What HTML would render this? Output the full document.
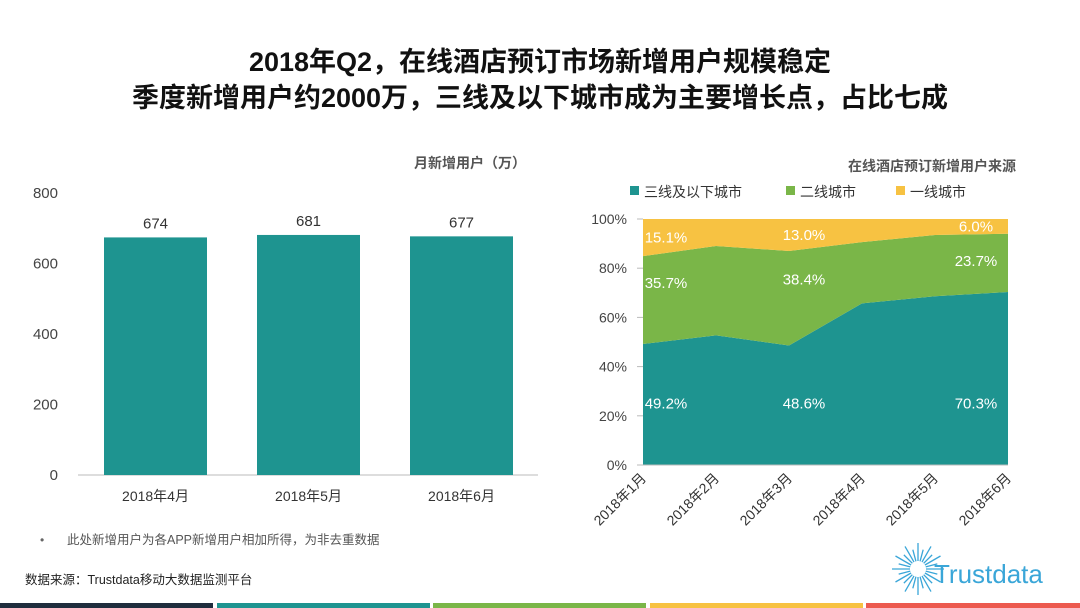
<!DOCTYPE html>
<html><head><meta charset="utf-8">
<style>
body{margin:0;width:1080px;height:608px;background:#fff;font-family:"Liberation Sans","Noto Sans CJK SC",sans-serif;overflow:hidden;position:relative}
.t{position:absolute;left:0;width:1080px;text-align:center;font-weight:bold;font-size:27px;color:#111}
svg text{font-family:"Liberation Sans","Noto Sans CJK SC",sans-serif}
</style></head><body>
<div class="t" style="top:40px">2018年Q2，在线酒店预订市场新增用户规模稳定</div>
<div class="t" style="top:76px">季度新增用户约2000万，三线及以下城市成为主要增长点，占比七成</div>
<svg id="c" width="1080" height="608" style="position:absolute;left:0;top:0">
<text x="470" y="168" text-anchor="middle" font-size="14" font-weight="bold" fill="#555">月新增用户（万）</text>
<text x="932" y="171" text-anchor="middle" font-size="14" font-weight="bold" fill="#555">在线酒店预订新增用户来源</text>
<text x="40" y="544" font-size="12" fill="#666">•</text>
<text x="67" y="544" font-size="12.5" fill="#555">此处新增用户为各APP新增用户相加所得，为非去重数据</text>
<text x="25" y="584" font-size="12.5" fill="#222">数据来源：Trustdata移动大数据监测平台</text>
<g>
<g stroke="#3aa6d8" stroke-width="1.3" id="rays"></g>
<text x="934" y="583" font-size="26" fill="#3aa6d8">Trustdata</text>
</g>
<g>
<rect x="0" y="603" width="213" height="5" fill="#1f2d3d"/>
<rect x="217" y="603" width="213" height="5" fill="#1e9490"/>
<rect x="433" y="603" width="213" height="5" fill="#7ab648"/>
<rect x="650" y="603" width="213" height="5" fill="#f7c242"/>
<rect x="866" y="603" width="214" height="5" fill="#ec5a4f"/>
</g>
<g id="left"></g><g id="right"></g>
</svg>
<script>
const barCats=["2018年4月","2018年5月","2018年6月"];
const barVals=[674,681,677];
const barTicks=[0,200,400,600,800];
const months=["2018年1月","2018年2月","2018年3月","2018年4月","2018年5月","2018年6月"];
const tier3=[49.2,52.7,48.6,65.7,68.6,70.3];
const tier2=[35.7,36.3,38.4,24.9,24.9,23.7];
const tier1=[15.1,11.0,13.0,9.4,6.5,6.0];
const pctTicks=[0,20,40,60,80,100];
const labelIdx=[0,2,5];
const NS="http://www.w3.org/2000/svg";
function mk(p,tag,a,txt){const e=document.createElementNS(NS,tag);for(const k in a)e.setAttribute(k,a[k]);if(txt!==undefined)e.textContent=txt;p.appendChild(e);return e;}
const rays=document.getElementById('rays');
for(let i=0;i<24;i++){const a=i/24*2*Math.PI;const r1=8,r2=(i%2?20:26);const cx=918,cy=569;
const l=mk(rays,'line',{x1:cx+r1*Math.cos(a),y1:cy+r1*Math.sin(a),x2:cx+r2*Math.cos(a),y2:cy+r2*Math.sin(a)});

}
const L=document.getElementById('left');
const y0=475,y1=193,ly=v=>y0-(v/800)*(y0-y1);
const bx=i=>104+i*153,bw=103;
mk(L,'line',{x1:78,y1:y0,x2:538,y2:y0,stroke:'#bbb'});
barTicks.forEach(t=>{const e=mk(L,'text',{x:58,y:ly(t)+5,'text-anchor':'end','font-size':15,fill:'#444'},t);

});
barVals.forEach((v,i)=>{
const r=mk(L,'rect',{x:bx(i),y:ly(v),width:bw,height:y0-ly(v),fill:'#1e9490'});


const t=mk(L,'text',{x:bx(i)+bw/2,y:ly(v)-9,'text-anchor':'middle','font-size':15,fill:'#333'},v);


const c=mk(L,'text',{x:bx(i)+bw/2,y:501,'text-anchor':'middle','font-size':14,fill:'#333'},barCats[i]);

});
const R=document.getElementById('right');
const px0=643,px1=1008,pyB=465,pyT=219;
const rx=i=>px0+i*(px1-px0)/(months.length-1);
const ry=v=>pyB-v/100*(pyB-pyT);
[["三线及以下城市","#1e9490",630],["二线城市","#7ab648",786],["一线城市","#f7c242",896]].forEach(([n,c,x])=>{
const s=mk(R,'rect',{x:x,y:186,width:9,height:9,fill:c});


const t=mk(R,'text',{x:x+14,y:197,'font-size':14,fill:'#333'},n);

});
pctTicks.forEach(t=>{mk(R,'line',{x1:637,y1:ry(t),x2:643,y2:ry(t),stroke:'#bbb'});
const e=mk(R,'text',{x:627,y:ry(t)+5,'text-anchor':'end','font-size':14,fill:'#444'},t+'%');

});
const c1=tier3, c2=tier3.map((v,i)=>v+tier2[i]), c3=c2.map((v,i)=>v+tier1[i]);
function area(top,bot,col,name){let d='M'+top.map((v,i)=>rx(i)+','+ry(v)).join(' L')+' L'+bot.map((v,i)=>rx(i)+','+ry(v)).reverse().join(' L')+'Z';
const p=mk(R,'path',{d:d,fill:col});

}
const zeros=months.map(()=>0);
area(c1,zeros,'#1e9490','area-tier3');
area(c2,c1,'#7ab648','area-tier2');
area(c3,c2,'#f7c242','area-tier1');
mk(R,'line',{x1:637,y1:pyB,x2:px1,y2:pyB,stroke:'#bbb'});
labelIdx.forEach(i=>{const x=Math.min(Math.max(rx(i),666),976)+(i==2?15:0);
const m3=Math.min(tier3[i]*0.52,25);
const m2=Math.min(c1[i]+tier2[i]*0.7,c2[i]-11);
const m1=(c2[i]+c3[i])/2;
[[tier3,m3],[tier2,m2],[tier1,m1]].forEach(([arr,mid])=>{
const t=mk(R,'text',{x:x,y:ry(mid)+5,'text-anchor':'middle','font-size':15,fill:'#fff'},arr[i].toFixed(1)+'%');

});});
months.forEach((m,i)=>{const x=rx(i)+4,y=479;
const t=mk(R,'text',{x:x,y:y,'text-anchor':'end','font-size':14,fill:'#333',transform:`rotate(-45 ${x} ${y})`},m);

});
</script>
</body></html>
